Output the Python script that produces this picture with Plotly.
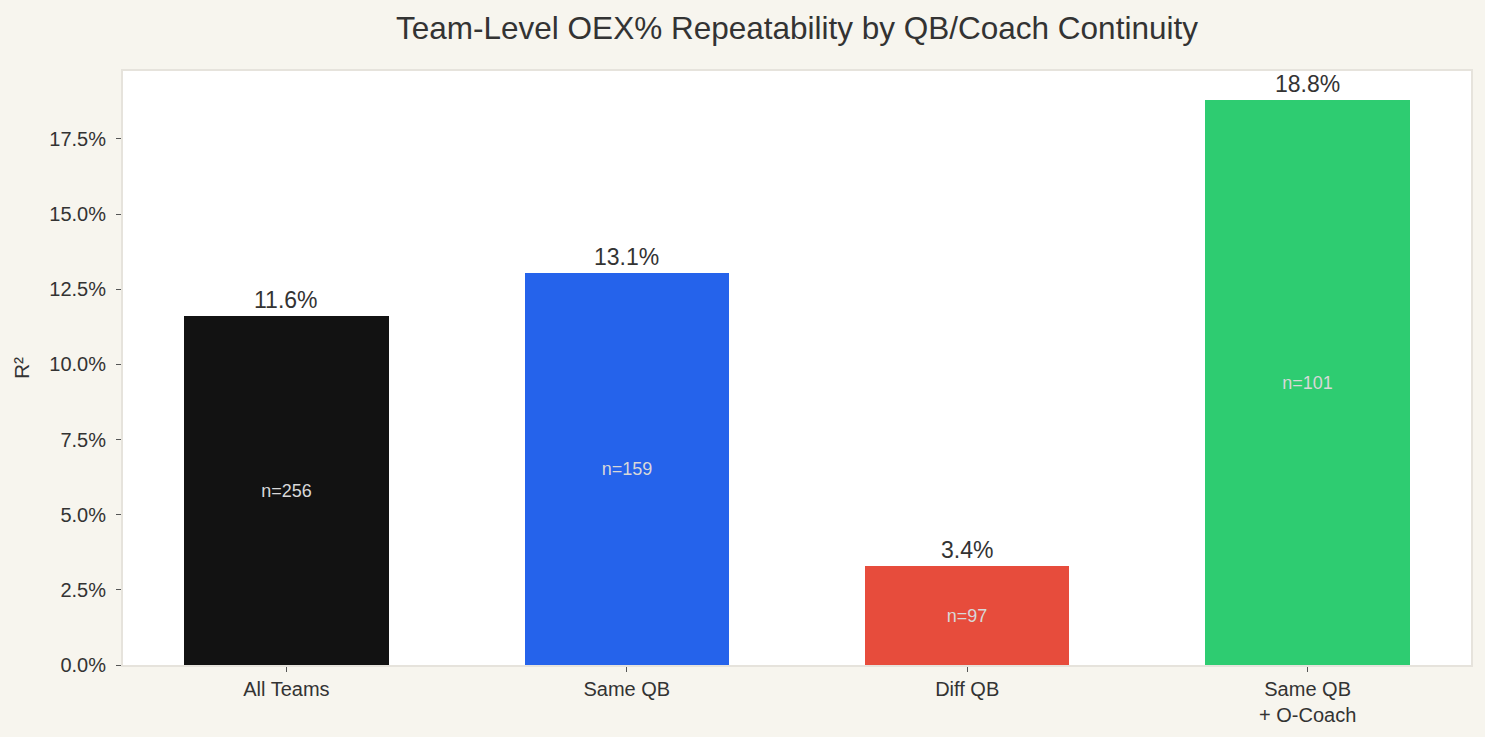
import plotly.graph_objects as go

# bar data
categories = ['All Teams', 'Same QB', 'Diff QB', 'Same QB<br>+ O-Coach']
r_squared = [0.116, 0.1305, 0.033, 0.188]
value_labels = ['11.6%', '13.1%', '3.4%', '18.8%']
n_labels = ['n=256', 'n=159', 'n=97', 'n=101']
bar_colors = ['#121212', '#2563eb', '#e74c3c', '#2ecc71']

FONT = 'Liberation Sans, Arial, sans-serif'
BG = '#f7f5ee'
TXT = '#333333'

fig = go.Figure()

# bars with the n= labels centred inside
fig.add_trace(go.Bar(
    x=list(range(len(categories))),
    y=r_squared,
    width=0.6,
    marker=dict(color=bar_colors, line=dict(width=0)),
    text=n_labels,
    textposition='inside',
    insidetextanchor='middle',
    textangle=0,
    textfont=dict(family=FONT, size=18, color='#d8d8d8'),
    hoverinfo='skip',
    showlegend=False,
))

# value labels above each bar
for i, (v, lab) in enumerate(zip(r_squared, value_labels)):
    fig.add_annotation(
        x=i, y=v, text=lab, showarrow=False,
        yanchor='bottom', yshift=1,
        font=dict(family=FONT, size=23, color=TXT),
    )

fig.update_layout(
    width=1485, height=737,
    paper_bgcolor=BG,
    plot_bgcolor='white',
    margin=dict(l=123, r=14, t=71, b=72),
    title=dict(
        text='Team-Level OEX% Repeatability by QB/Coach Continuity',
        xref='paper', x=0.5, xanchor='center', y=0.962, yanchor='middle',
        font=dict(family=FONT, size=31.5, color=TXT),
    ),
    font=dict(family=FONT, color=TXT),
    bargap=0,
)

fig.update_xaxes(
    range=[-0.48, 3.48],
    tickmode='array',
    tickvals=list(range(len(categories))),
    ticktext=categories,
    ticks='outside', ticklen=5, tickwidth=1.2, tickcolor='#555555',
    tickfont=dict(family=FONT, size=20, color=TXT),
    showgrid=False, zeroline=False,
    showline=True, linecolor='#e6e3dc', linewidth=2, mirror=True,
)

fig.update_yaxes(
    range=[0, 0.1976],
    tickvals=[0, 0.025, 0.05, 0.075, 0.1, 0.125, 0.15, 0.175],
    tickformat='.1%',
    ticks='outside', ticklen=5, tickwidth=1.2, tickcolor='#555555',
    ticklabelstandoff=6,
    tickfont=dict(family=FONT, size=20, color=TXT),
    title=dict(text='R²', font=dict(family=FONT, size=21, color=TXT), standoff=14),
    showgrid=False, zeroline=False,
    showline=True, linecolor='#e6e3dc', linewidth=2, mirror=True,
)

# drop the default page margin so the figure sits at the window's corner
fig.write_html('out.html', config={'displayModeBar': False},
               post_script="document.body.style.margin='0';")
